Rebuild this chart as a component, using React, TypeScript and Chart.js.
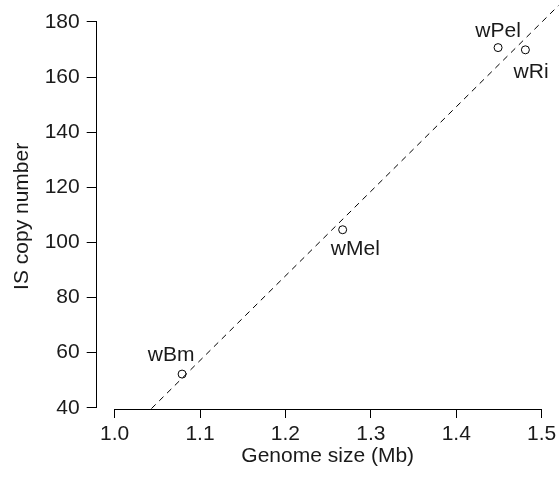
import { useEffect, useRef } from "react";
import { Chart, registerables } from "chart.js";

Chart.register(...registerables);

// ---- data ----
const strains = ["wBm", "wMel", "wPel", "wRi"];
const genomeSizeMb = [1.079, 1.267, 1.449, 1.481];
const isCopyNumber = [52.2, 104.6, 170.7, 169.9];
const xTickValues = [1.0, 1.1, 1.2, 1.3, 1.4, 1.5];
const yTickValues = [40, 60, 80, 100, 120, 140, 160, 180];
const xAxisTitle = "Genome size (Mb)";
const yAxisTitle = "IS copy number";

// ---- axis extents & styles ----
const X_MIN = 0.979;
const X_MAX = 1.52;
const Y_MIN = 39.53;
const Y_MAX = 187;
const FONT_FAMILY = "'Liberation Sans', Arial, Helvetica, sans-serif";
const TEXT_COLOR = "#1a1a1a";
const FONT_SIZE = 21;
// label offsets in pixels relative to each point (dx, baseline dy)
const labelOffsets: [number, number][] = [
  [-11, -13.3],
  [12.7, 25.7],
  [0, -11],
  [5.7, 28],
];
const Y_TITLE_BASELINE_X = 27.5;
const Y_TITLE_SHIFT = 10.5;

function linearFit(xs: number[], ys: number[]) {
  const n = xs.length;
  const mx = xs.reduce((a, b) => a + b, 0) / n;
  const my = ys.reduce((a, b) => a + b, 0) / n;
  let sxy = 0;
  let sxx = 0;
  for (let i = 0; i < n; i++) {
    sxy += (xs[i] - mx) * (ys[i] - my);
    sxx += (xs[i] - mx) * (xs[i] - mx);
  }
  const slope = sxy / sxx;
  return { slope, intercept: my - slope * mx };
}

function zeroPadding(s: any) {
  s.paddingTop = 0;
  s.paddingBottom = 0;
  s.paddingLeft = 0;
  s.paddingRight = 0;
}

export default function App() {
  const ref = useRef<HTMLCanvasElement | null>(null);

  useEffect(() => {
    const canvas = ref.current;
    if (!canvas) return;
    const fit = linearFit(genomeSizeMb, isCopyNumber);
    const lineData = [X_MIN, X_MAX].map((x) => ({ x, y: fit.intercept + fit.slope * x }));
    const points = genomeSizeMb.map((x, i) => ({ x, y: isCopyNumber[i] }));

    const axesPlugin = {
      id: "rAxes",
      afterDraw(chart: any) {
        const { ctx, chartArea, scales } = chart;
        const xs = scales.x;
        const ys = scales.y;
        ctx.save();
        ctx.strokeStyle = "#000";
        ctx.lineWidth = 1;
        ctx.beginPath();
        const ax = Math.round(chartArea.left) - 0.5;
        ctx.moveTo(ax, ys.getPixelForValue(yTickValues[0]));
        ctx.lineTo(ax, ys.getPixelForValue(yTickValues[yTickValues.length - 1]));
        const ay = Math.round(chartArea.bottom) + 0.5;
        ctx.moveTo(xs.getPixelForValue(xTickValues[0]), ay);
        ctx.lineTo(xs.getPixelForValue(xTickValues[xTickValues.length - 1]), ay);
        ctx.stroke();

        ctx.fillStyle = TEXT_COLOR;
        ctx.font = `${FONT_SIZE}px ${FONT_FAMILY}`;
        ctx.textAlign = "center";
        ctx.textBaseline = "alphabetic";

        // y-axis title
        ctx.save();
        ctx.translate(Y_TITLE_BASELINE_X, (ys.top + ys.bottom) / 2 + Y_TITLE_SHIFT);
        ctx.rotate(-Math.PI / 2);
        ctx.fillText(yAxisTitle, 0, 0);
        ctx.restore();

        // point labels
        strains.forEach((s, i) => {
          const px = xs.getPixelForValue(genomeSizeMb[i]) + labelOffsets[i][0];
          const py = ys.getPixelForValue(isCopyNumber[i]) + labelOffsets[i][1];
          ctx.fillText(s, px, py);
        });
        ctx.restore();
      },
    };

    const font = { family: FONT_FAMILY, size: FONT_SIZE };

    const chart = new Chart(canvas, {
      type: "scatter",
      data: {
        datasets: [
          {
            type: "line",
            data: lineData,
            borderColor: "#000",
            borderWidth: 1,
            borderDash: [6, 5],
            pointRadius: 0,
            fill: false,
          } as any,
          {
            data: points,
            pointRadius: 4,
            pointBorderColor: "#000",
            pointBackgroundColor: "rgba(0,0,0,0)",
            pointBorderWidth: 1,
            showLine: false,
          },
        ],
      },
      options: {
        responsive: false,
        animation: false,
        devicePixelRatio: 1,
        layout: { autoPadding: false, padding: { top: 2.7, right: 1.3, left: 0, bottom: 0 } },
        plugins: { legend: { display: false }, tooltip: { enabled: false } },
        scales: {
          x: {
            type: "linear",
            min: X_MIN,
            max: X_MAX,
            afterBuildTicks: (s: any) => {
              s.ticks = xTickValues.map((v) => ({ value: v }));
            },
            afterFit: (s: any) => {
              s.height = 70;
              zeroPadding(s);
            },
            ticks: {
              font,
              color: TEXT_COLOR,
              padding: 4,
              maxRotation: 0,
              autoSkip: false,
              callback: (v: any) => Number(v).toFixed(1),
            },
            grid: { drawOnChartArea: false, drawTicks: true, tickLength: 9, color: "#000", lineWidth: 1 },
            border: { display: false },
            title: { display: true, text: xAxisTitle, font, color: TEXT_COLOR, padding: { top: 0, bottom: 10 } },
          },
          y: {
            type: "linear",
            min: Y_MIN,
            max: Y_MAX,
            afterBuildTicks: (s: any) => {
              s.ticks = yTickValues.map((v) => ({ value: v }));
            },
            afterFit: (s: any) => {
              s.width = 96.7;
              zeroPadding(s);
            },
            ticks: {
              font,
              color: TEXT_COLOR,
              padding: 7,
              autoSkip: false,
              callback: (v: any) => String(Math.round(Number(v))),
            },
            grid: { drawOnChartArea: false, drawTicks: true, tickLength: 10, color: "#000", lineWidth: 1 },
            border: { display: false },
            title: { display: false, text: yAxisTitle },
          },
        },
      },
      plugins: [axesPlugin],
    });
    return () => chart.destroy();
  }, []);

  return (
    <div style={{ position: "absolute", left: 0, top: 0, width: 560, height: 479, background: "#fff" }}>
      <canvas ref={ref} width={560} height={479} style={{ display: "block" }} />
    </div>
  );
}
